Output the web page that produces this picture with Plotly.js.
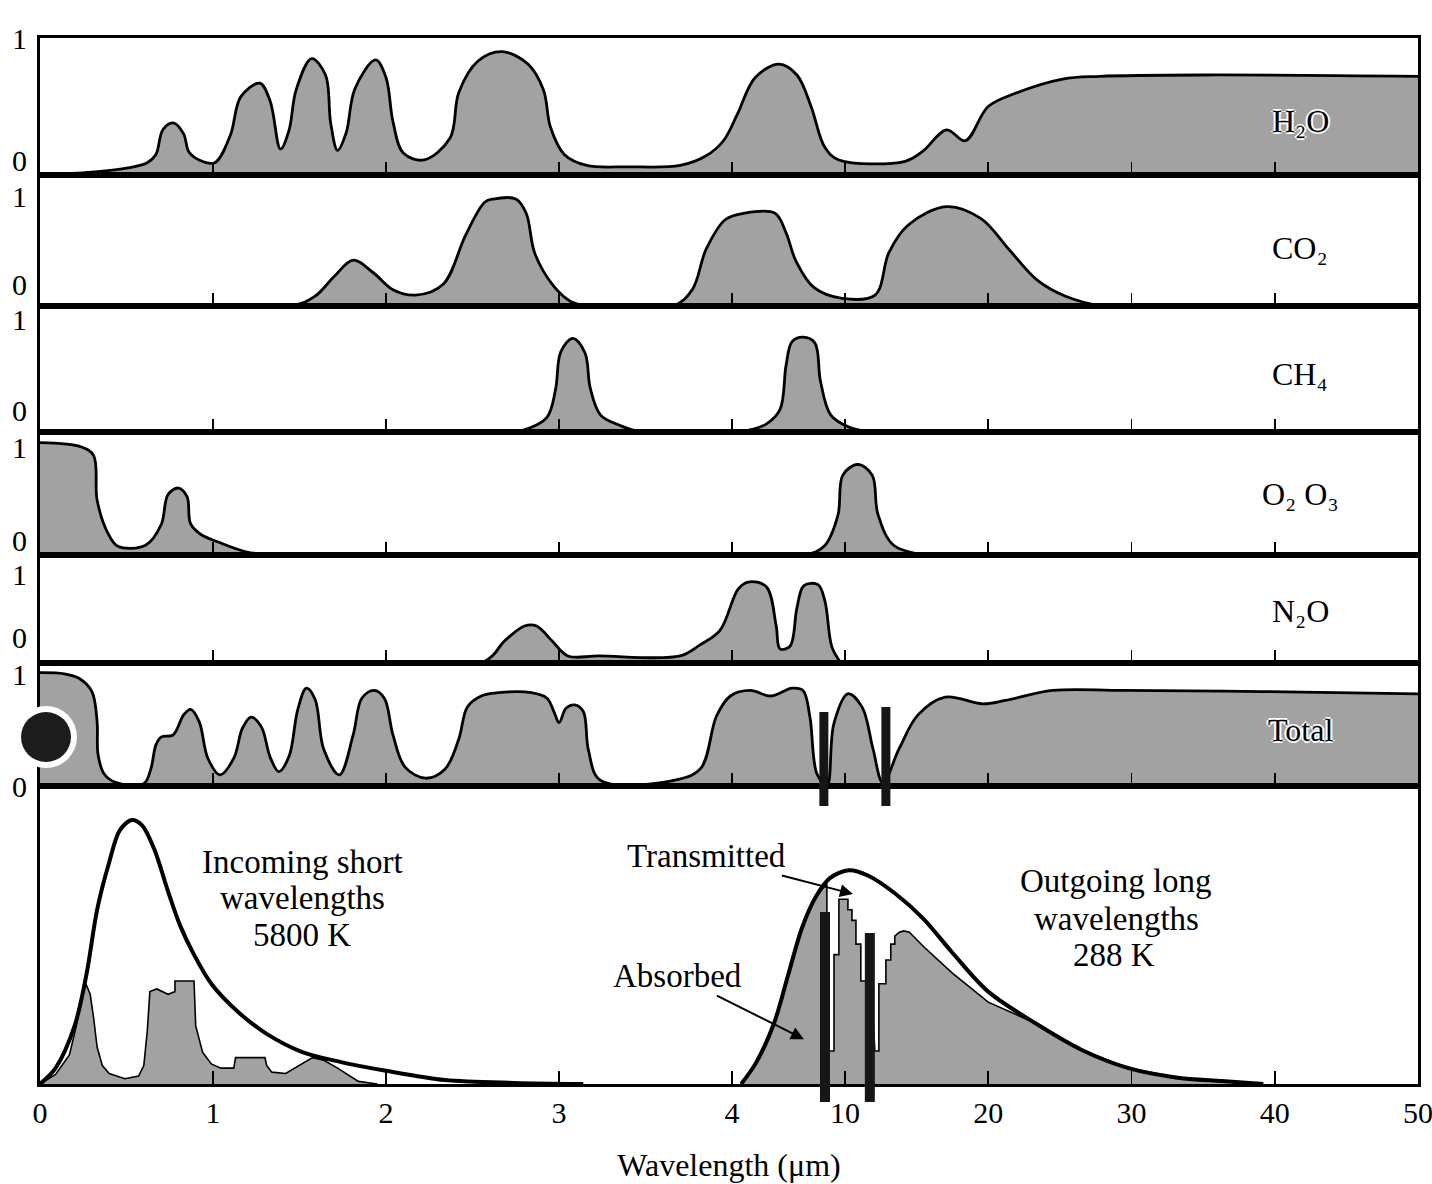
<!DOCTYPE html>
<html>
<head>
<meta charset="utf-8">
<script src="https://cdn.plot.ly/plotly-3.0.1.min.js"></script>
<style>html,body{margin:0;padding:0;background:#fff}#chart{width:1432px;height:1184px}</style>
</head>
<body>
<div id="chart"></div>
<script>
// ---------------- DATA (wavelength in micrometres, absorptivity 0..1) ----------------
const h2oWave = [0,0.3,0.5,0.62,0.67,0.71,0.77,0.83,0.86,0.92,1.01,1.10,1.16,1.27,1.33,1.39,1.44,1.48,1.57,1.65,1.68,1.72,1.77,1.82,1.94,2.00,2.04,2.10,2.22,2.37,2.42,2.53,2.67,2.82,2.91,2.95,3.03,3.16,3.4,3.7,3.85,3.95,4.27,5.22,6.5,7.45,8.2,8.94,9.68,14.2,15.4,17.1,18.4,20.0,22.0,25.2,27.8,35.0,50];
const h2oAbs  = [0,0.02,0.05,0.09,0.15,0.33,0.38,0.30,0.17,0.11,0.09,0.29,0.57,0.67,0.54,0.19,0.33,0.62,0.85,0.73,0.38,0.18,0.31,0.63,0.84,0.71,0.39,0.16,0.11,0.27,0.60,0.83,0.90,0.81,0.62,0.35,0.15,0.07,0.06,0.07,0.14,0.25,0.44,0.71,0.81,0.73,0.50,0.20,0.11,0.10,0.17,0.33,0.25,0.50,0.60,0.70,0.72,0.73,0.72];

const co2Wave = [0,1.45,1.59,1.70,1.81,1.93,2.04,2.17,2.33,2.46,2.57,2.62,2.75,2.81,2.86,2.97,3.07,3.18,3.66,3.77,3.85,3.96,4.64,6.28,6.87,7.4,8.35,9.84,12.1,13.07,14.4,17.1,19.5,21.5,23.4,25.4,28.0,33.4];
const co2Abs  = [0,0,0.09,0.27,0.42,0.30,0.15,0.10,0.20,0.65,0.95,0.98,0.98,0.85,0.48,0.18,0.04,0,0,0.15,0.52,0.79,0.85,0.85,0.67,0.41,0.17,0.07,0.10,0.49,0.74,0.91,0.80,0.51,0.24,0.09,0,0];

const ch4Wave = [0,2.70,2.80,2.93,2.98,3.01,3.08,3.15,3.18,3.24,3.35,3.47,4.32,5.81,6.55,6.87,7.19,7.77,8.4,8.7,9.25,10.35,11.95];
const ch4Abs  = [0,0,0.02,0.13,0.38,0.71,0.83,0.70,0.39,0.15,0.06,0,0,0.07,0.2,0.59,0.8,0.84,0.79,0.45,0.15,0.04,0];

const o2o3Wave = [0,0.24,0.31,0.33,0.39,0.45,0.61,0.70,0.74,0.80,0.85,0.87,0.93,1.03,1.19,1.35,7.77,8.89,9.63,9.89,10.9,11.9,12.3,13.4,15.7];
const o2o3Abs  = [1.04,1.0,0.92,0.51,0.21,0.08,0.09,0.28,0.56,0.62,0.54,0.29,0.19,0.12,0.03,0,0,0.08,0.37,0.74,0.84,0.74,0.38,0.09,0];

const n2oWave = [0,2.55,2.69,2.80,2.87,2.96,3.05,3.23,3.70,3.81,3.93,4.32,4.85,5.81,6.34,6.55,7.08,7.45,7.82,8.57,8.94,9.31,9.79];
const n2oAbs  = [0,0,0.26,0.42,0.42,0.25,0.08,0.08,0.08,0.2,0.37,0.84,0.92,0.87,0.43,0.16,0.19,0.63,0.88,0.89,0.7,0.18,0];

const totalWave = [0,0.14,0.225,0.30,0.33,0.335,0.37,0.44,0.60,0.64,0.67,0.70,0.77,0.83,0.87,0.92,0.97,1.04,1.12,1.17,1.22,1.28,1.33,1.38,1.44,1.49,1.54,1.59,1.64,1.73,1.81,1.86,1.93,1.99,2.04,2.11,2.23,2.34,2.42,2.47,2.55,2.65,2.84,2.93,2.97,3.00,3.04,3.09,3.14,3.17,3.24,3.69,3.82,3.91,3.99,4.96,6.07,7.19,7.77,8.14,8.51,9.04,9.41,10.2,11.2,11.95,12.65,13.8,15.1,17.0,19.6,21.2,24.5,29.4,39.1,50];
const totalAbs  = [1.02,1.01,0.97,0.85,0.58,0.29,0.11,0.03,0.02,0.15,0.37,0.44,0.46,0.64,0.69,0.58,0.25,0.10,0.25,0.52,0.62,0.53,0.26,0.13,0.27,0.69,0.88,0.78,0.33,0.10,0.46,0.79,0.86,0.79,0.46,0.17,0.07,0.15,0.42,0.71,0.81,0.84,0.84,0.79,0.67,0.57,0.70,0.73,0.67,0.32,0.05,0.06,0.16,0.63,0.81,0.86,0.81,0.88,0.86,0.62,0.11,0.0,0.56,0.83,0.71,0.34,0.03,0.34,0.64,0.80,0.74,0.77,0.86,0.86,0.85,0.83];

// Bottom panel: relative radiant intensity (each curve's own scale)
const solarWave = [0,0.09,0.20,0.27,0.33,0.40,0.46,0.53,0.59,0.66,0.74,0.81,0.89,0.99,1.15,1.31,1.52,1.74,2.0,2.34,2.74,3.14];
const solarBB   = [0,0.06,0.22,0.42,0.66,0.84,0.96,1.0,0.98,0.89,0.73,0.60,0.49,0.38,0.27,0.19,0.12,0.083,0.05,0.015,0.004,0];
const solarAbsWave  = [0,0.09,0.17,0.21,0.24,0.265,0.29,0.31,0.33,0.36,0.40,0.49,0.57,0.60,0.62,0.635,0.675,0.74,0.78,0.78,0.89,0.90,0.94,0.99,1.045,1.12,1.13,1.30,1.31,1.34,1.42,1.50,1.575,1.64,1.72,1.84,1.95];
const solarAbsorbed = [0,0.036,0.11,0.22,0.33,0.38,0.34,0.25,0.14,0.07,0.04,0.02,0.03,0.07,0.2,0.35,0.36,0.34,0.35,0.39,0.39,0.22,0.12,0.076,0.06,0.06,0.10,0.10,0.07,0.045,0.04,0.07,0.10,0.09,0.06,0.01,0];

const earthWave = [4.48,5.27,6.23,6.97,7.71,8.46,9.2,10.28,11.6,13.55,15.5,17.46,20.0,23.3,26.5,29.8,33.1,36.3,39.2];
const earthBB   = [0,0.08,0.23,0.41,0.59,0.71,0.78,0.81,0.79,0.72,0.625,0.50,0.35,0.23,0.13,0.06,0.025,0.011,0];
const earthAbsWave  = [4.48,5.27,6.23,6.97,7.71,8.46,9.04,9.04,9.42,9.42,9.68,9.68,10.21,10.21,10.49,10.49,10.77,10.77,11.11,11.11,11.81,12.09,12.37,12.37,12.86,12.86,13.2,13.2,13.48,13.48,13.8,14.11,14.5,15.5,17.5,20.0,21.6,23.3,26.5,29.8,33.1,36.3,39.2];
const earthAbsorbed = [0,0.08,0.23,0.41,0.59,0.71,0.76,0.125,0.125,0.49,0.49,0.70,0.70,0.66,0.66,0.62,0.62,0.53,0.53,0.39,0.39,0.125,0.125,0.38,0.38,0.47,0.47,0.53,0.53,0.56,0.575,0.58,0.575,0.52,0.42,0.31,0.27,0.23,0.13,0.06,0.025,0.011,0];

const tickWaves  = [0,1,2,3,4,10,20,30,40,50];
const tickLabels = ['0','1','2','3','4','10','20','30','40','50'];
const panelTickWaves = [1,2,3,4,10,20,30,40];
const panelYLabels = ['0','1'];
const panelNames = ['H\u2082O','CO\u2082','CH\u2084','O\u2082 O\u2083','N\u2082O','Total'];
const penMarkWaves = [8.88,12.86];        // hand-drawn strokes, Total panel
const penMarkWavesSpectrum = [8.94,11.74]; // hand-drawn strokes, spectrum panel

// ---------------- BROKEN WAVELENGTH SCALE (0-4 | 4-10 | 10-50) ----------------
const PX_PER_UNIT = 173.3;
const SEG_MID = 113 / 6 / PX_PER_UNIT;
const SEG_FAR = 143.5 / 10 / PX_PER_UNIT;
function P(w) {
  if (w <= 4) return w;
  if (w <= 10) return 4 + (w - 4) * SEG_MID;
  return 4 + 6 * SEG_MID + (w - 10) * SEG_FAR;
}
const XMAX = P(50);

// ---------------- LAYOUT GEOMETRY ----------------
const W = 1432, H = 1184, ML = 40, MR = 14, MT = 38, MB = 100;
const PW = W - ML - MR, PH = H - MT - MB;
const rowTopsPx = [38,175,306,432,555,663,786];
const rowBottomPx = 1084;
const yRanges = [1.0,1.2,1.116,1.139,1.227,1.107,1.129];
const zeroShiftPx = [15,22,22,15,26,0];   // "0" label sits slightly above the baseline
const labelYPx = [121,248,374,494,611,730];
const px2x = X => (X - ML) / PW;
const px2y = Y => (rowBottomPx - Y) / PH;

const GRAY = '#a2a2a2';
const FONT = 'Liberation Serif, Times New Roman, serif';

const layout = {
  width: W, height: H,
  margin: {l: ML, r: MR, t: MT, b: MB},
  paper_bgcolor: '#ffffff', plot_bgcolor: 'rgba(0,0,0,0)',
  showlegend: false,
  font: {family: FONT, color: '#000', size: 29},
  annotations: [], shapes: []
};

for (let i = 0; i < 7; i++) {
  const n = i + 1;
  const top = rowTopsPx[i];
  const bot = i < 6 ? rowTopsPx[i + 1] : rowBottomPx;
  const isBottom = i === 6;
  const ax = {
    domain: [0, 1], anchor: 'y' + n, range: [0, XMAX],
    showline: true, linecolor: '#000', linewidth: 3, mirror: true,
    showgrid: false, zeroline: false,
    ticks: 'inside', ticklen: 13, tickwidth: 1.6, tickcolor: '#000',
    tickvals: (isBottom ? tickWaves : panelTickWaves).map(P),
    showticklabels: isBottom,
    fixedrange: true
  };
  if (isBottom) {
    ax.ticktext = tickLabels;
    ax.tickfont = {family: FONT, size: 30, color: '#000'};
    ax.ticklabelstandoff = 0;
    ax.ticklabeloverflow = 'allow';
    ax.title = {text: 'Wavelength (\u03bcm)', font: {family: FONT, size: 32, color: '#000'}, standoff: 26};
  }
  layout['xaxis' + n] = ax;
  const ya = {
    domain: [px2y(bot), px2y(top)], anchor: 'x' + n, range: [0, yRanges[i]],
    showline: true, linecolor: '#000', linewidth: 3, mirror: true,
    showgrid: false, zeroline: false, ticks: '',
    showticklabels: false, fixedrange: true
  };
  if (!isBottom) {
    const unitPx = (bot - top) / yRanges[i];
    ya.showticklabels = true;
    ya.tickvals = [zeroShiftPx[i] / unitPx, 1];
    ya.ticktext = panelYLabels;
    ya.tickfont = {family: FONT, size: 30, color: '#000'};
    ya.ticklabelstandoff = 4;
    ya.ticklabeloverflow = 'allow';
  }
  layout['yaxis' + n] = ya;
}

// ---------------- TRACES ----------------
const panelData = [
  [h2oWave, h2oAbs], [co2Wave, co2Abs], [ch4Wave, ch4Abs],
  [o2o3Wave, o2o3Abs], [n2oWave, n2oAbs], [totalWave, totalAbs]
];
const traces = panelData.map((d, i) => ({
  type: 'scatter', mode: 'lines',
  x: d[0].map(P), y: d[1],
  xaxis: 'x' + (i + 1), yaxis: 'y' + (i + 1),
  fill: 'tozeroy', fillcolor: GRAY,
  line: {color: '#000', width: 2.8, shape: 'spline', smoothing: 1},
  hoverinfo: 'skip', name: panelNames[i]
}));

traces.push({type: 'scatter', mode: 'lines', x: solarAbsWave.map(P), y: solarAbsorbed, xaxis: 'x7', yaxis: 'y7',
  fill: 'tozeroy', fillcolor: GRAY, line: {color: '#000', width: 1.6}, hoverinfo: 'skip', name: 'Incoming absorbed'});
traces.push({type: 'scatter', mode: 'lines', x: earthAbsWave.map(P), y: earthAbsorbed, xaxis: 'x7', yaxis: 'y7',
  fill: 'tozeroy', fillcolor: GRAY, line: {color: '#000', width: 1.6}, hoverinfo: 'skip', name: 'Outgoing absorbed'});
traces.push({type: 'scatter', mode: 'lines', x: solarWave.map(P), y: solarBB, xaxis: 'x7', yaxis: 'y7',
  line: {color: '#000', width: 4, shape: 'spline', smoothing: 0.9}, hoverinfo: 'skip', name: '5800 K'});
traces.push({type: 'scatter', mode: 'lines', x: earthWave.map(P), y: earthBB, xaxis: 'x7', yaxis: 'y7',
  line: {color: '#000', width: 4, shape: 'spline', smoothing: 0.9}, hoverinfo: 'skip', name: '288 K'});

// ---------------- ANNOTATIONS ----------------
const halo = '2px 0 0 #fff, -2px 0 0 #fff, 0 2px 0 #fff, 0 -2px 0 #fff';
panelNames.forEach((t, i) => {
  layout.annotations.push({xref: 'paper', yref: 'paper', x: px2x(1300), y: px2y(labelYPx[i]),
    text: t, showarrow: false, xanchor: 'center', yanchor: 'middle',
    font: {family: FONT, size: 32, color: '#000', shadow: (i === 0 || i === 5) ? halo : 'none'}});
});

const textLines = [
  ['Incoming short', 302, 862], ['wavelengths', 302, 898], ['5800 K', 302, 935],
  ['Outgoing long', 1116, 881], ['wavelengths', 1116, 919], ['288 K', 1114, 955]
];
textLines.forEach(([t, X, Y]) => layout.annotations.push({xref: 'paper', yref: 'paper', x: px2x(X), y: px2y(Y),
  text: t, showarrow: false, xanchor: 'center', yanchor: 'middle', font: {family: FONT, size: 33, color: '#000'}}));

// labelled arrows: tip given in wavelength / intensity, text offset in px
layout.annotations.push({xref: 'x7', yref: 'y7', x: P(10.56), y: 0.72, ax: -146, ay: -38, text: 'Transmitted',
  font: {family: FONT, size: 33, color: '#000'},
  showarrow: true, arrowhead: 2, arrowsize: 1.3, arrowwidth: 2, arrowcolor: '#000', standoff: 0});
layout.annotations.push({xref: 'x7', yref: 'y7', x: P(7.82), y: 0.17, ax: -126, ay: -63, text: 'Absorbed',
  font: {family: FONT, size: 33, color: '#000'},
  showarrow: true, arrowhead: 2, arrowsize: 1.3, arrowwidth: 2, arrowcolor: '#000', standoff: 0});

// ---------------- SHAPES: pen marks & punch hole ----------------
penMarkWaves.forEach((w, k) => layout.shapes.push({type: 'line', xref: 'x6', yref: 'paper',
  x0: P(w), x1: P(w), y0: px2y(806), y1: px2y(k === 0 ? 712 : 707),
  line: {color: '#161616', width: 9}}));
penMarkWavesSpectrum.forEach((w, k) => layout.shapes.push({type: 'line', xref: 'x7', yref: 'paper',
  x0: P(w), x1: P(w), y0: px2y(1102), y1: px2y(k === 0 ? 912 : 933),
  line: {color: '#161616', width: 10}}));
layout.shapes.push({type: 'circle', xref: 'paper', yref: 'paper',
  x0: px2x(15), x1: px2x(77), y0: px2y(768), y1: px2y(706), fillcolor: '#ffffff', line: {width: 0}});
layout.shapes.push({type: 'circle', xref: 'paper', yref: 'paper',
  x0: px2x(21), x1: px2x(71), y0: px2y(762), y1: px2y(712), fillcolor: '#1c1c1c', line: {width: 0}});

Plotly.newPlot('chart', traces, layout, {displayModeBar: false, staticPlot: true});
</script>
</body>
</html>
